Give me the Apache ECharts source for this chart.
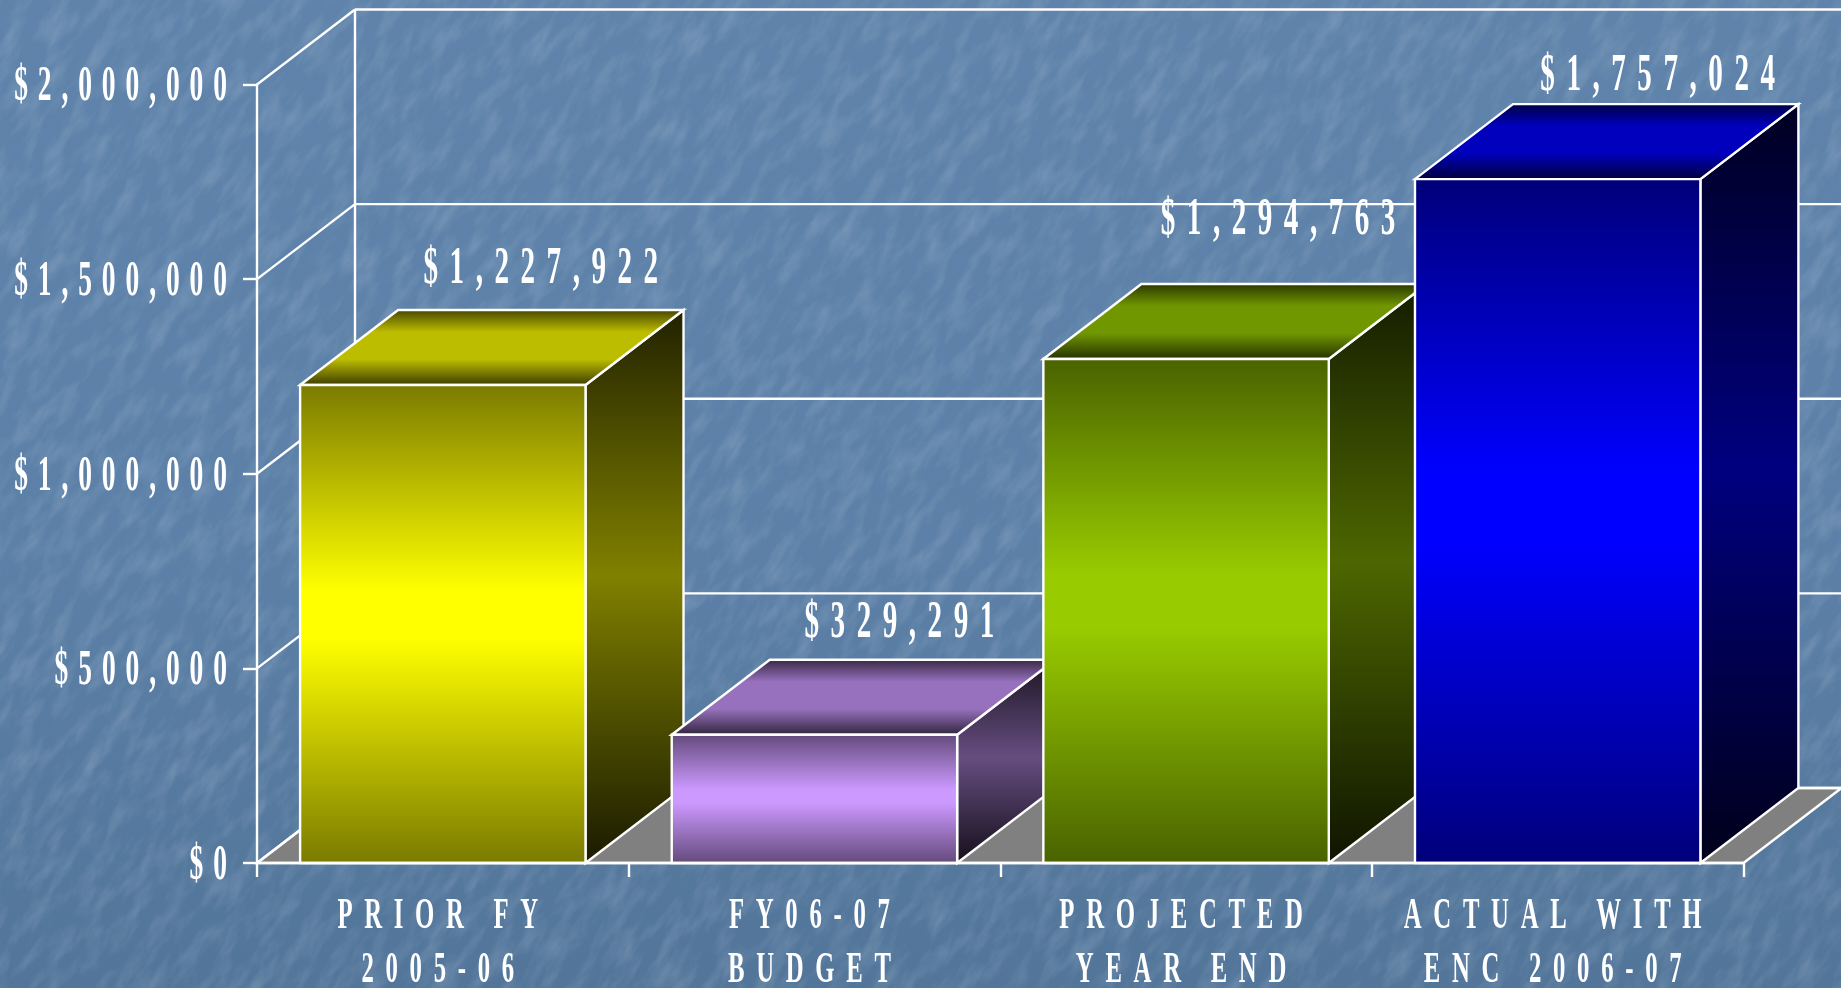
<!DOCTYPE html>
<html>
<head>
<meta charset="utf-8">
<style>
html,body{margin:0;padding:0;width:1841px;height:988px;overflow:hidden;background:linear-gradient(180deg,#5f83aa 0%,#5c80a7 55%,#527599 100%);}
#tex{position:absolute;left:0;top:0;width:1841px;height:988px;}
#chart{position:absolute;left:0;top:0;width:1841px;height:988px;}
</style>
<script src="https://cdn.jsdelivr.net/npm/echarts@6/dist/echarts.min.js"></script>
</head>
<body>
<svg id="tex" xmlns="http://www.w3.org/2000/svg">
  <filter id="f" x="0" y="0" width="100%" height="100%">
    <feTurbulence type="fractalNoise" baseFrequency="0.025 0.07" numOctaves="4" seed="7"/>
    <feColorMatrix type="matrix" values="0 0 0 0 0.62  0 0 0 0 0.72  0 0 0 0 0.84  1.5 0 0 0 -0.62"/>
  </filter>
  <g transform="rotate(-58 920 494)"><rect x="-400" y="-700" width="2700" height="2400" filter="url(#f)" opacity="0.28"/></g>
</svg>
<div id="chart"></div>
<script>
// ---- data ----
const categories = ['PRIOR FY\n2005-06', 'FY06-07\nBUDGET', 'PROJECTED\nYEAR END', 'ACTUAL WITH\nENC 2006-07'];
const values = [1227922, 329291, 1294763, 1757024];
const yTicks = [0, 500000, 1000000, 1500000, 2000000];

// ---- styling ----
const baseColors = [[255,255,0],[204,153,255],[153,204,0],[0,0,255]];
const labelNudge = [[98,-14],[85,-10],[92,-37],[100,-1]];
const DX = 98, DY = -75, BAR = 0.768;
const WHITE = '#ffffff';
const LINE = 2.4;

// The reference type is a tall condensed serif with wide tracking. Each font size
// is one text role: [horizontal squeeze, tracking px, x shift px, y shift px].
const typeRoles = {50:[0.55,9.9,0,3], 45:[0.55,11.7,-5,0], 53:[0.55,11.5,0,0]};
const nativeFill = CanvasRenderingContext2D.prototype.fillText;
CanvasRenderingContext2D.prototype.fillText = function (t, x, y, m) {
  const size = parseInt((this.font.match(/(\d+)px/) || [])[1], 10);
  const r = typeRoles[size];
  if (!r) return nativeFill.call(this, t, x, y, m);
  this.save();
  const trail = this.textAlign === 'center' ? r[1] / 2 : (this.textAlign === 'right' || this.textAlign === 'end') ? r[1] : 0;
  this.translate(x + trail + r[2], y + r[3]);
  this.scale(r[0], 1);
  this.letterSpacing = (r[1] / r[0]) + 'px';
  nativeFill.call(this, t, 0, 0);
  this.restore();
};

const shade = (c, k) => `rgb(${Math.round(c[0]*k)},${Math.round(c[1]*k)},${Math.round(c[2]*k)})`;
const vGrad = (stops) => new echarts.graphic.LinearGradient(0, 0, 0, 1, stops.map(s => ({offset:s[0], color:s[1]})));
const money = v => '$' + Number(v).toLocaleString('en-US');
const edge = {stroke: WHITE, lineWidth: LINE};

function renderFrame(params, api) {
  const cs = params.coordSys, v = api.value(1), y = api.coord([0, v])[1], x0 = cs.x, x1 = cs.x + cs.width;
  const children = [
    {type:'line', shape:{x1:x0, y1:y, x2:x0+DX, y2:y+DY}, style:{stroke:WHITE, lineWidth:LINE}},
    {type:'line', shape:{x1:x0+DX, y1:y+DY, x2:x1+DX, y2:y+DY}, style:{stroke:WHITE, lineWidth:LINE}}
  ];
  if (v === 0) {
    children.unshift({type:'polygon', shape:{points:[[x0,y],[x0+DX,y+DY],[x1+DX,y+DY],[x1,y]]}, style:{fill:'#808080', stroke:WHITE, lineWidth:LINE}});
    const top = cs.y + DY;
    children.push({type:'line', shape:{x1:x0+DX, y1:y+DY, x2:x0+DX, y2:top}, style:{stroke:WHITE, lineWidth:LINE}});
  }
  return {type:'group', children};
}

function renderBar(params, api) {
  const i = api.value(0), v = api.value(1), c = baseColors[i];
  const band = api.size([1, 0])[0], w = band * BAR;
  const pt = api.coord([i, v]), base = api.coord([i, 0]);
  const l = pt[0] - w / 2, r = pt[0] + w / 2, t = pt[1], b = base[1];
  return {type:'group', children:[
    {type:'polygon', shape:{points:[[r,t],[r+DX,t+DY],[r+DX,b+DY],[r,b]]},
      style:Object.assign({fill:vGrad([[0,shade(c,0.13)],[0.48,shade(c,0.5)],[1,shade(c,0.1)]])}, edge)},
    {type:'polygon', shape:{points:[[l,t],[l+DX,t+DY],[r+DX,t+DY],[r,t]]},
      style:Object.assign({fill:vGrad([[0,shade(c,0.25)],[0.3,shade(c,0.74)],[0.65,shade(c,0.74)],[1,shade(c,0.22)]])}, edge)},
    {type:'rect', shape:{x:l, y:t, width:w, height:b-t},
      style:Object.assign({fill:vGrad([[0,shade(c,0.48)],[0.43,shade(c,1)],[0.53,shade(c,1)],[1,shade(c,0.48)]])}, edge)}
  ]};
}

function renderValueLabel(params, api) {
  const i = api.value(0), v = api.value(1), p = api.coord([i, v]), n = labelNudge[i];
  return {type:'text', style:{
    text: money(v), x: p[0] + n[0], y: p[1] + DY + n[1], fill: WHITE,
    font: 'bold 53px "Liberation Serif"', textAlign:'center', textVerticalAlign:'bottom'
  }};
}

const chart = echarts.init(document.getElementById('chart'));
chart.setOption({
  animation:false,
  backgroundColor:'transparent',
  grid:{left:257, right:97.5, top:84.5, bottom:125, containLabel:false, outerBoundsMode:'none'},
  xAxis:{type:'category', data:categories, z:5,
    axisLine:{lineStyle:{color:WHITE, width:LINE}},
    axisTick:{show:true, length:14, lineStyle:{color:WHITE, width:LINE}},
    splitLine:{show:false},
    axisLabel:{interval:0, hideOverlap:false, color:WHITE, fontFamily:'"Liberation Serif"', fontWeight:'bold', fontSize:45, lineHeight:54, margin:26}
  },
  yAxis:{type:'value', min:0, max:2000000, interval:500000, z:5,
    axisLine:{show:true, lineStyle:{color:WHITE, width:LINE}},
    axisTick:{show:true, length:14, lineStyle:{color:WHITE, width:LINE}},
    splitLine:{show:false},
    axisLabel:{color:WHITE, formatter:money, fontFamily:'"Liberation Serif"', fontWeight:'bold', fontSize:50, margin:30}
  },
  series:[
    {type:'custom', z:1, silent:true, renderItem:renderFrame, data:yTicks.map(v=>[0,v])},
    {type:'custom', z:2, silent:true, renderItem:renderBar, data:values.map((v,i)=>[i,v])},
    {type:'custom', z:3, silent:true, renderItem:renderValueLabel, data:values.map((v,i)=>[i,v])}
  ]
});
</script>
</body>
</html>
